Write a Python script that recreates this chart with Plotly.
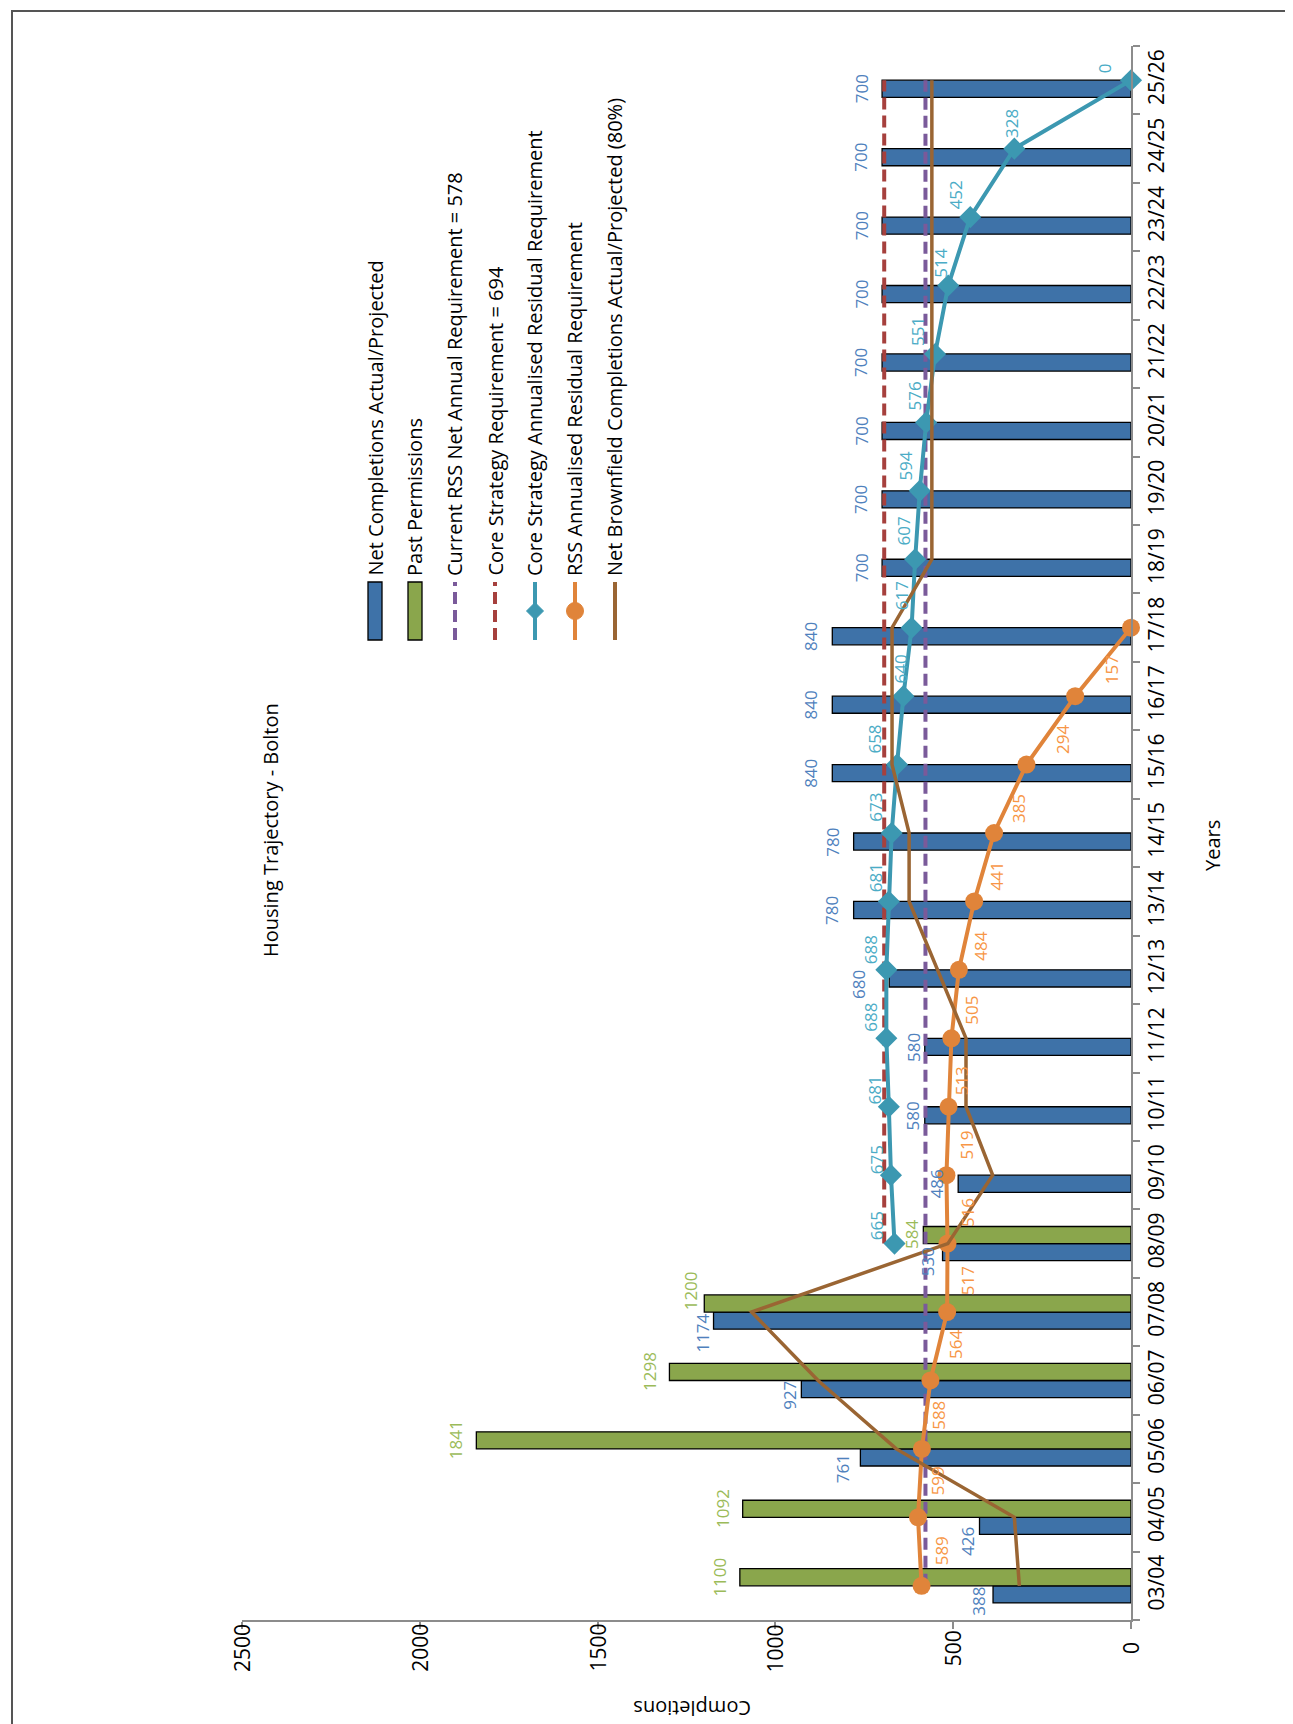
import plotly.graph_objects as go

# ---------------- data ----------------
years = ["03/04", "04/05", "05/06", "06/07", "07/08", "08/09", "09/10", "10/11",
         "11/12", "12/13", "13/14", "14/15", "15/16", "16/17", "17/18", "18/19",
         "19/20", "20/21", "21/22", "22/23", "23/24", "24/25", "25/26"]

net_completions = [388, 426, 761, 927, 1174, 530, 486, 580, 580, 680, 780, 780,
                   840, 840, 840, 700, 700, 700, 700, 700, 700, 700, 700]

past_years = ["03/04", "04/05", "05/06", "06/07", "07/08", "08/09"]
past_permissions = [1100, 1092, 1841, 1298, 1200, 584]

rss_requirement = [578, 578, 578, 578, 578, 578, 578, 578, 578, 578, 578, 578,
                   578, 578, 578, 578, 578, 578, 578, 578, 578, 578, 578]

core_years = ["08/09", "09/10", "10/11", "11/12", "12/13", "13/14", "14/15", "15/16",
              "16/17", "17/18", "18/19", "19/20", "20/21", "21/22", "22/23", "23/24",
              "24/25", "25/26"]
core_requirement = [694, 694, 694, 694, 694, 694, 694, 694, 694, 694, 694, 694,
                    694, 694, 694, 694, 694, 694]
core_residual = [665, 675, 681, 688, 688, 681, 673, 658, 640, 617, 607, 594,
                 576, 551, 514, 452, 328, 0]

rss_years = ["03/04", "04/05", "05/06", "06/07", "07/08", "08/09", "09/10", "10/11",
             "11/12", "12/13", "13/14", "14/15", "15/16", "16/17", "17/18"]
rss_residual = [589, 599, 588, 564, 517, 516, 519, 513, 505, 484, 441, 385, 294, 157, 0]

brownfield = [314, 328, 660, 880, 1067, 515, 389, 464, 464, 544, 624, 624,
              672, 672, 672, 560, 560, 560, 560, 560, 560, 560, 560]

value_ticks = [0, 500, 1000, 1500, 2000, 2500]

legend_labels = ["Net Completions Actual/Projected", "Past Permissions",
                 "Current RSS Net Annual Requirement = 578",
                 "Core Strategy Requirement = 694",
                 "Core Strategy Annualised Residual Requirement",
                 "RSS Annualised Residual Requirement",
                 "Net Brownfield Completions Actual/Projected (80%)"]

title_text = "Housing Trajectory - Bolton"
value_title = "Completions"
category_title = "Years"

# ---------------- style ----------------
FONT = "Open Sans"
LBL_SIZE = 17
TICK_SIZE = 21
BLUE_BAR = "#3E72A8"
GREEN_BAR = "#8AA64C"
PURPLE = "#7A5A9A"
RED = "#A6403D"
TEAL = "#3C98B1"
ORANGE = "#E0843A"
BROWN = "#9A6533"
BLUE_LBL = "#4F81BD"
GREEN_LBL = "#9BBB59"
TEAL_LBL = "#4BACC6"
ORANGE_LBL = "#F79646"
AXIS = "#8C8C8C"

# label placement offsets in screen pixels (style, not data)
net_label_dx = [-14, -12, -17, -12, -11, -15, -22, -12, -11, -30, -22, -22,
                -22, -22, -22, -21, -21, -21, -21, -21, -21, -21, -21]
net_label_dy = [-16, -24, -20, -15, -21, -18, -9, -9, -9, -15, -9, -9,
                -9, -9, -9, -9, -9, -9, -9, -9, -9, -9, -9]
past_label_dx = [-20, -20, -20, -20, -14, -12]
past_label_dy = [9, 9, 9, 9, 21, 9]
core_label_dx = [-18, -15, -14, -16, -15, -13, -17, -22, -3, -10, -12, -14,
                 -12, -17, -8, -15, -3, -27]
core_label_dy = [18, 16, 17, 21, 20, 24, 26, 25, 27, 32, 28, 25, 26, 22, 22, 22, 25, 12]
rss_label_dx = [20, 19, 17, 25, 20, 20, 20, 13, 20, 22, 22, 24, 36, 36]
rss_label_dy = [35, 36, 34, 36, 31, 31, 30, 26, 28, 24, 25, 24, 25, 26]

W, H = 1293, 1724
L, R, T, B = 234, 1123, 38, 1612


def px(x):
    return (x - L) / (R - L)


def py(y):
    return (B - y) / (B - T)


fig = go.Figure()

fig.add_trace(go.Bar(name=legend_labels[0], y=years, x=net_completions, orientation="h",
                     marker=dict(color=BLUE_BAR, line=dict(color="black", width=1.3))))
fig.add_trace(go.Bar(name=legend_labels[1], y=past_years, x=past_permissions, orientation="h",
                     marker=dict(color=GREEN_BAR, line=dict(color="black", width=1.3))))
fig.add_trace(go.Scatter(name=legend_labels[2], y=years, x=rss_requirement, mode="lines",
                         line=dict(color=PURPLE, width=4, dash="12px,6px")))
fig.add_trace(go.Scatter(name=legend_labels[3], y=core_years, x=core_requirement, mode="lines",
                         line=dict(color=RED, width=4, dash="12px,6px")))
fig.add_trace(go.Scatter(name=legend_labels[4], y=core_years, x=core_residual, mode="lines+markers",
                         line=dict(color=TEAL, width=4),
                         marker=dict(symbol="diamond", size=17, color=TEAL), cliponaxis=False))
fig.add_trace(go.Scatter(name=legend_labels[5], y=rss_years, x=rss_residual, mode="lines+markers",
                         line=dict(color=ORANGE, width=4),
                         marker=dict(symbol="circle", size=18, color=ORANGE), cliponaxis=False))
fig.add_trace(go.Scatter(name=legend_labels[6], y=years, x=brownfield, mode="lines",
                         line=dict(color=BROWN, width=3.5)))

ann = []


def value_label(v, yr, dx, dy, color):
    return dict(x=v, y=yr, xref="x", yref="y", text=str(v), textangle=-90,
                showarrow=False, xanchor="center", yanchor="middle",
                xshift=dx, yshift=dy, font=dict(family=FONT, size=LBL_SIZE, color=color))


for yr, v, dx, dy in zip(years, net_completions, net_label_dx, net_label_dy):
    ann.append(value_label(v, yr, dx, dy, BLUE_LBL))
for yr, v, dx, dy in zip(past_years, past_permissions, past_label_dx, past_label_dy):
    ann.append(value_label(v, yr, dx, dy, GREEN_LBL))
for yr, v, dx, dy in zip(core_years, core_residual, core_label_dx, core_label_dy):
    ann.append(value_label(v, yr, dx, dy, TEAL_LBL))
for yr, v, dx, dy in zip(rss_years[:-1], rss_residual[:-1], rss_label_dx, rss_label_dy):
    ann.append(value_label(v, yr, dx, dy, ORANGE_LBL))

# value axis tick labels (centred, rotated with the chart)
for v in value_ticks:
    ann.append(dict(x=v, y=py(1640), xref="x", yref="paper", text=str(v), textangle=-90,
                    showarrow=False, xanchor="center", yanchor="middle",
                    font=dict(family=FONT, size=TICK_SIZE, color="black")))

# title and axis titles (rotated with the chart)
ann.append(dict(x=px(262), y=py(822), xref="paper", yref="paper", text=title_text,
                textangle=-90, showarrow=False, xanchor="center", yanchor="middle",
                font=dict(family=FONT, size=20, color="black")))
ann.append(dict(x=px(1205), y=py(838), xref="paper", yref="paper", text=category_title,
                textangle=-90, showarrow=False, xanchor="center", yanchor="middle",
                font=dict(family=FONT, size=20, color="black")))
ann.append(dict(x=px(684), y=py(1700), xref="paper", yref="paper", text=value_title,
                textangle=180, showarrow=False, xanchor="center", yanchor="middle",
                font=dict(family=FONT, size=20, color="black")))

shapes = []
# legend (drawn rotated)
sym_top, sym_bot = 574, 632
for i, lab in enumerate(legend_labels):
    xc = 367 + 40 * i
    ann.append(dict(x=px(xc), y=py(570), xref="paper", yref="paper", text=lab,
                    textangle=-90, showarrow=False, xanchor="center", yanchor="bottom",
                    font=dict(family=FONT, size=20, color="black")))
    if i < 2:
        shapes.append(dict(type="rect", xref="paper", yref="paper",
                           x0=px(xc - 7), x1=px(xc + 7), y0=py(sym_bot), y1=py(sym_top),
                           fillcolor=[BLUE_BAR, GREEN_BAR][i], line=dict(color="black", width=1.3)))
    else:
        col = [PURPLE, RED, TEAL, ORANGE, BROWN][i - 2]
        dash = "12px,6px" if i in (2, 3) else "solid"
        shapes.append(dict(type="line", xref="paper", yref="paper",
                           x0=px(xc), x1=px(xc), y0=py(sym_bot), y1=py(sym_top),
                           line=dict(color=col, width=4, dash=dash)))
        ym = (sym_top + sym_bot) / 2
        if i == 4:
            d = 8.5
            path = (f"M {px(xc)} {py(ym - d)} L {px(xc + d)} {py(ym)} "
                    f"L {px(xc)} {py(ym + d)} L {px(xc - d)} {py(ym)} Z")
            shapes.append(dict(type="path", xref="paper", yref="paper", path=path,
                               fillcolor=TEAL, line=dict(color=TEAL, width=1)))
        if i == 5:
            r = 8.5
            shapes.append(dict(type="circle", xref="paper", yref="paper",
                               x0=px(xc - r), x1=px(xc + r), y0=py(ym + r), y1=py(ym - r),
                               fillcolor=ORANGE, line=dict(color=ORANGE, width=1)))

# outer frame
shapes.append(dict(type="rect", xref="paper", yref="paper",
                   x0=px(4), x1=px(1288), y0=py(1720), y1=py(3),
                   line=dict(color="#555555", width=2), fillcolor="rgba(0,0,0,0)", layer="below"))

fig.update_layout(
    width=W, height=H,
    margin=dict(l=L, r=W - R, t=T, b=H - B, pad=0),
    paper_bgcolor="white", plot_bgcolor="white",
    barmode="group", bargap=0.5, bargroupgap=0,
    showlegend=False,
    font=dict(family=FONT, size=20, color="black"),
    xaxis=dict(range=[2500, 0], tickvals=value_ticks, showticklabels=False,
               ticks="outside", ticklen=7, tickwidth=1.5, tickcolor=AXIS,
               showline=True, linecolor=AXIS, linewidth=1.5,
               showgrid=False, zeroline=False),
    yaxis=dict(type="category", categoryorder="array", categoryarray=years,
               range=[-0.5, 22.5], side="right", tickangle=-90,
               ticks="outside", tickson="boundaries", ticklen=7, tickwidth=1.5, tickcolor=AXIS,
               showline=True, linecolor=AXIS, linewidth=1.5, showgrid=False, zeroline=False,
               ticklabelstandoff=6,
               tickfont=dict(family=FONT, size=TICK_SIZE, color="black")),
    annotations=ann,
    shapes=shapes,
)

fig.write_html("out.html", config={"displayModeBar": False})
